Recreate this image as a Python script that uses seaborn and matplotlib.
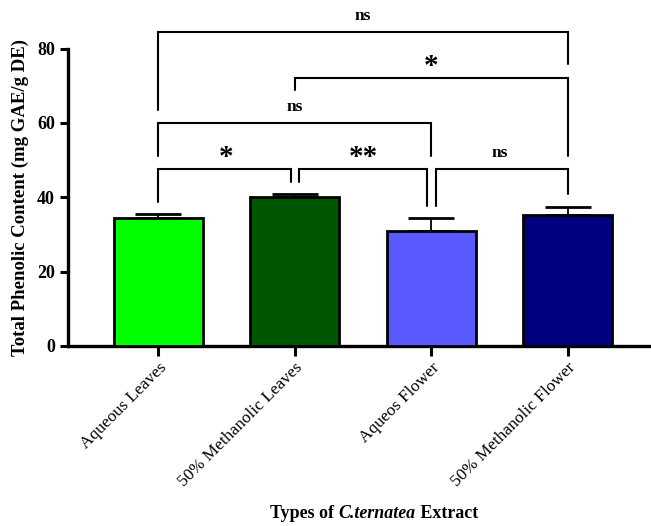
import matplotlib
matplotlib.use("Agg")
import matplotlib.pyplot as plt
import seaborn as sns
import numpy as np
import pandas as pd

# Extract types, mean phenolic content and SD
extracts = ["Aqueous Leaves", "50% Methanolic Leaves", "Aqueos Flower", "50% Methanolic Flower"]
tpc_mean = [34.4, 40.1, 30.9, 35.2]
tpc_sd = [1.1, 0.7, 3.4, 2.2]
bar_colors = ["#00FF00", "#005500", "#5A5AFF", "#00007F"]

# Pairwise comparisons: (group a, group b, significance label)
comparisons = [(0, 3, "ns"), (1, 3, "*"), (0, 2, "ns"), (0, 1, "*"), (1, 2, "**"), (2, 3, "ns")]
# Bracket layout: bar height, left leg end, right leg end (data units)
bracket_layout = [(84.5, 63.5, 75.7), (72.1, 68.8, 51.2), (59.9, 51.2, 51.2),
                  (47.6, 38.8, 44.2), (47.6, 44.2, 37.7), (47.6, 37.7, 40.8)]

sns.set_style("ticks")
plt.rcParams["font.family"] = ["Liberation Serif", "DejaVu Serif"]
plt.rcParams["text.color"] = "black"
plt.rcParams["axes.labelcolor"] = "black"
plt.rcParams["xtick.color"] = "black"
plt.rcParams["ytick.color"] = "black"

df = pd.DataFrame({"extract": extracts, "tpc": tpc_mean})

fig = plt.figure(figsize=(6.51, 5.26), dpi=100)
ax = fig.add_axes([68 / 651, 180 / 526, (651 - 68) / 651, (346 - 48.5) / 526])

sns.barplot(data=df, x="extract", y="tpc", hue="extract", palette=bar_colors,
            saturation=1, errorbar=None, width=0.65, edgecolor="black", linewidth=2.0,
            legend=False, ax=ax, zorder=3)

xpos = np.arange(len(extracts))
ax.errorbar(xpos, tpc_mean, yerr=[np.zeros(len(tpc_sd)), tpc_sd], fmt="none",
            ecolor="black", elinewidth=1.3, capsize=16.5, capthick=2.0, zorder=2)

ax.set_ylim(0, 80)
ax.set_xlim(-0.662, 3.61)
ax.set_yticks([0, 20, 40, 60, 80])
ax.set_yticklabels(["0", "20", "40", "60", "80"], fontsize=13, fontweight="bold")
ax.set_xticks(xpos)
ax.set_xticklabels(extracts, rotation=45, ha="right", rotation_mode="anchor", fontsize=12.4)
ax.tick_params(axis="both", width=2.2, length=6, color="black")
ax.tick_params(axis="x", pad=3, length=7)
for side in ["top", "right"]:
    ax.spines[side].set_visible(False)
for side in ["left", "bottom"]:
    ax.spines[side].set_linewidth(2.4)
    ax.spines[side].set_color("black")
ax.set_xlabel("")
ax.set_ylabel("Total Phenolic Content (mg GAE/g DE)", fontsize=13.5, fontweight="bold", labelpad=6)

# Significance brackets
split = 0.031
for (a, b, lab), (yb, la, rb) in zip(comparisons, bracket_layout):
    xa, xb = float(a), float(b)
    # split legs where two adjacent brackets share a bar
    if yb < 50:
        if any(c[1] == a for c in comparisons[3:]) and a != 0:
            xa += split
        if any(c[0] == b for c in comparisons[3:]) and b != 3:
            xb -= split
    ax.plot([xa, xa, xb, xb], [la, yb, yb, rb], color="black", lw=1.5,
            clip_on=False, solid_joinstyle="miter", zorder=4)
    if lab == "ns":
        ax.text((a + b) / 2, yb + 4.3, lab, ha="center", va="center", fontsize=12.5,
                fontweight="bold", clip_on=False)
    else:
        ax.text((a + b) / 2, yb + 3.0, lab, ha="center", va="center", fontsize=21,
                fontweight="bold", clip_on=False)

# Axis title with italic species name
renderer = fig.canvas.get_renderer()
parts = [("Types of ", "normal"), ("C.ternatea", "italic"), (" Extract", "normal")]
texts = []
for s, st in parts:
    texts.append(fig.text(0, 13 / 526, s, fontsize=12.9, fontweight="bold", style=st,
                          ha="left", va="center"))
widths = [t.get_window_extent(renderer).width for t in texts]
x0 = 374 - sum(widths) / 2
for t, w in zip(texts, widths):
    t.set_x(x0 / 651)
    x0 += w

fig.savefig("out.png", dpi=100)
